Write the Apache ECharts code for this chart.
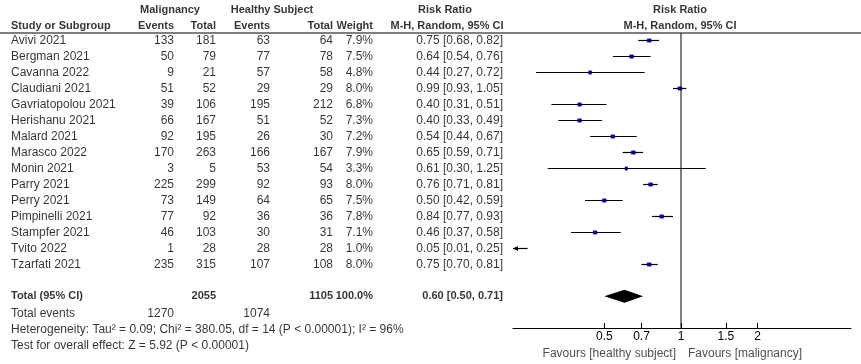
<!DOCTYPE html>
<html>
<head>
<meta charset="utf-8">
<script src="https://cdn.jsdelivr.net/npm/echarts@6/dist/echarts.min.js"></script>
<style>
  html, body { margin: 0; padding: 0; background: #fff; }
  #chart { width: 861px; height: 364px; }
</style>
</head>
<body>
<div id="chart"></div>
<script>
const studies = ['Avivi 2021', 'Bergman 2021', 'Cavanna 2022', 'Claudiani 2021', 'Gavriatopolou 2021',
  'Herishanu 2021', 'Malard 2021', 'Marasco 2022', 'Monin 2021', 'Parry 2021', 'Perry 2021',
  'Pimpinelli 2021', 'Stampfer 2021', 'Tvito 2022', 'Tzarfati 2021'];
const malEvents = [133, 50, 9, 51, 39, 66, 92, 170, 3, 225, 73, 77, 46, 1, 235];
const malTotal = [181, 79, 21, 52, 106, 167, 195, 263, 5, 299, 149, 92, 103, 28, 315];
const hsEvents = [63, 77, 57, 29, 195, 51, 26, 166, 53, 92, 64, 36, 30, 28, 107];
const hsTotal = [64, 78, 58, 29, 212, 52, 30, 167, 54, 93, 65, 36, 31, 28, 108];
const weights = [7.9, 7.5, 4.8, 8.0, 6.8, 7.3, 7.2, 7.9, 3.3, 8.0, 7.5, 7.8, 7.1, 1.0, 8.0];
const rr = [0.75, 0.64, 0.44, 0.99, 0.40, 0.40, 0.54, 0.65, 0.61, 0.76, 0.50, 0.84, 0.46, 0.05, 0.75];
const rrLow = [0.68, 0.54, 0.27, 0.93, 0.31, 0.33, 0.44, 0.59, 0.30, 0.71, 0.42, 0.77, 0.37, 0.01, 0.70];
const rrHigh = [0.82, 0.76, 0.72, 1.05, 0.51, 0.49, 0.67, 0.71, 1.25, 0.81, 0.59, 0.93, 0.58, 0.25, 0.81];
const totalN = [2055, 1105];
const totalEvents = [1270, 1074];
const totalRR = [0.60, 0.50, 0.71];
const tickValues = [0.5, 0.7, 1, 1.5, 2];
const tickLabels = ['0.5', '0.7', '1', '1.5', '2'];
const heterogeneity = 'Heterogeneity: Tau² = 0.09; Chi² = 380.05, df = 14 (P < 0.00001); I² = 96%';
const overallEffect = 'Test for overall effect: Z = 5.92 (P < 0.00001)';

// layout (pixels)
const ROW0 = 40.3;
const ROWH = 16;
const PLOT_TOP = 33;
const PLOT_BOTTOM = 328;
const PLOT_LEFT = 513;
const PLOT_RIGHT = 851;
const col = { study: 11, malEv: 174, malTot: 216, hsEv: 270, hsTot: 333, weight: 373, ci: 503, mal: 170, hs: 272, ciHead: 445, plot: 680 };
const FONT = '"Liberation Sans", Arial, sans-serif';

const lg = v => Math.log10(v);
const fmt2 = v => v.toFixed(2);
const ciText = (e, l, h) => `${fmt2(e)} [${fmt2(l)}, ${fmt2(h)}]`;

// table cells
const cells = [];
const cell = (x, row, text, align, bold, color) => {
  cells.push({
    value: [x, row],
    label: {
      formatter: text,
      align,
      fontWeight: bold ? 'bold' : 'normal',
      fontSize: bold ? 11 : 12,
      color: color || '#000',
    },
  });
};
const H1 = (10 - ROW0) / ROWH;
const H2 = (25.5 - ROW0) / ROWH;
cell(col.mal, H1, 'Malignancy', 'center', true);
cell(col.hs, H1, 'Healthy Subject', 'center', true);
cell(col.ciHead, H1, 'Risk Ratio', 'center', true);
cell(col.plot, H1, 'Risk Ratio', 'center', true);
cell(col.study, H2, 'Study or Subgroup', 'left', true);
cell(col.malEv, H2, 'Events', 'right', true);
cell(col.malTot, H2, 'Total', 'right', true);
cell(col.hsEv, H2, 'Events', 'right', true);
cell(col.hsTot, H2, 'Total', 'right', true);
cell(col.weight, H2, 'Weight', 'right', true);
cell(col.ciHead + 2, H2, 'M-H, Random, 95% CI', 'center', true);
cell(col.plot, H2, 'M-H, Random, 95% CI', 'center', true);

studies.forEach((s, i) => {
  cell(col.study, i, s, 'left');
  cell(col.malEv, i, String(malEvents[i]), 'right');
  cell(col.malTot, i, String(malTotal[i]), 'right');
  cell(col.hsEv, i, String(hsEvents[i]), 'right');
  cell(col.hsTot, i, String(hsTotal[i]), 'right');
  cell(col.weight, i, weights[i].toFixed(1) + '%', 'right');
  cell(col.ci, i, ciText(rr[i], rrLow[i], rrHigh[i]), 'right');
});

const TOTAL_ROW = studies.length + 1;
cell(col.study, TOTAL_ROW, 'Total (95% CI)', 'left', true);
cell(col.malTot, TOTAL_ROW, String(totalN[0]), 'right', true);
cell(col.hsTot, TOTAL_ROW, String(totalN[1]), 'right', true);
cell(col.weight, TOTAL_ROW, '100.0%', 'right', true);
cell(col.ci, TOTAL_ROW, ciText(totalRR[0], totalRR[1], totalRR[2]), 'right', true);
cell(col.study, TOTAL_ROW + 1.08, 'Total events', 'left');
cell(col.malEv, TOTAL_ROW + 1.08, String(totalEvents[0]), 'right');
cell(col.hsEv, TOTAL_ROW + 1.08, String(totalEvents[1]), 'right');
cell(col.study, TOTAL_ROW + 2.08, heterogeneity, 'left');
cell(col.study, TOTAL_ROW + 3.06, overallEffect, 'left');
cell(676, TOTAL_ROW + 3.56, 'Favours [healthy subject]', 'right', false, '#222');
cell(688, TOTAL_ROW + 3.56, 'Favours [malignancy]', 'left', false, '#222');

// forest data in log10 space
const studyData = studies.map((s, i) => [lg(rr[i]), lg(rrLow[i]), lg(rrHigh[i]), weights[i], i]);
const pooledData = [[lg(totalRR[0]), lg(totalRR[1]), lg(totalRR[2]), 100, TOTAL_ROW]];

const plotYMin = -(ROW0 - PLOT_TOP) / ROWH;
const plotYMax = plotYMin + (PLOT_BOTTOM - PLOT_TOP) / ROWH;
// axis range: pixel extent of the axis line mapped back to ratio scale
const DECADE = 254.8;
const plotXMin = (PLOT_LEFT - 681) / DECADE;
const plotXMax = (PLOT_RIGHT - 681) / DECADE;

const chart = echarts.init(document.getElementById('chart'));
chart.setOption({
  animation: false,
  textStyle: { fontFamily: FONT },
  grid: [
    { left: 0, top: 0, width: 861, height: 364 },
    { left: PLOT_LEFT, top: PLOT_TOP, width: PLOT_RIGHT - PLOT_LEFT, height: PLOT_BOTTOM - PLOT_TOP },
  ],
  xAxis: [
    { gridIndex: 0, type: 'value', min: 0, max: 861, show: false },
    {
      gridIndex: 1,
      type: 'value',
      min: plotXMin,
      max: plotXMax,
      position: 'bottom',
      axisLine: { show: true, onZero: false, lineStyle: { color: '#000', width: 1 } },
      axisTick: { show: true, inside: true, length: 5, customValues: tickValues.map(lg), lineStyle: { color: '#000' } },
      axisLabel: {
        customValues: tickValues.map(lg),
        margin: 3,
        color: '#000',
        fontSize: 12,
        fontFamily: FONT,
        formatter: (v) => {
          let best = 0;
          tickValues.forEach((t, k) => { if (Math.abs(lg(t) - v) < Math.abs(lg(tickValues[best]) - v)) best = k; });
          return tickLabels[best];
        },
      },
      splitLine: { show: false },
    },
  ],
  yAxis: [
    { gridIndex: 0, type: 'value', inverse: true, min: -ROW0 / ROWH, max: (364 - ROW0) / ROWH, show: false },
    { gridIndex: 1, type: 'value', inverse: true, min: plotYMin, max: plotYMax, show: false },
  ],
  series: [
    {
      type: 'line',
      xAxisIndex: 0,
      yAxisIndex: 0,
      data: [[0, plotYMin], [861, plotYMin]],
      symbol: 'none',
      lineStyle: { color: '#000', width: 1 },
      silent: true,
    },
    {
      type: 'scatter',
      xAxisIndex: 0,
      yAxisIndex: 0,
      symbolSize: 0,
      silent: true,
      data: cells,
      label: {
        show: true,
        position: 'inside',
        verticalAlign: 'middle',
        fontFamily: FONT,
      },
    },
    {
      type: 'line',
      xAxisIndex: 1,
      yAxisIndex: 1,
      data: [[0, plotYMin], [0, plotYMax]],
      symbol: 'none',
      lineStyle: { color: '#000', width: 1 },
      silent: true,
    },
    {
      type: 'custom',
      xAxisIndex: 1,
      yAxisIndex: 1,
      silent: true,
      data: studyData,
      renderItem: (params, api) => {
        const y = Math.round(api.coord([0, api.value(4)])[1]) + 0.5;
        const xMin = params.coordSys.x;
        const xMax = xMin + params.coordSys.width;
        let x1 = api.coord([api.value(1), 0])[0];
        let x2 = api.coord([api.value(2), 0])[0];
        const xc = api.coord([api.value(0), 0])[0];
        const clipL = x1 < xMin;
        const clipR = x2 > xMax;
        x1 = Math.max(x1, xMin);
        x2 = Math.min(x2, xMax);
        const children = [
          { type: 'line', shape: { x1, y1: y, x2, y2: y }, style: { stroke: '#000', lineWidth: 1.2 } },
        ];
        if (clipL) {
          children.push({ type: 'polygon', shape: { points: [[x1, y], [x1 + 5, y - 2.5], [x1 + 5, y + 2.5]] }, style: { fill: '#000' } });
        }
        if (clipR) {
          children.push({ type: 'polygon', shape: { points: [[x2, y], [x2 - 5, y - 2.5], [x2 - 5, y + 2.5]] }, style: { fill: '#000' } });
        }
        if (xc >= xMin && xc <= xMax) {
          const w = 1.6 + 0.3 * api.value(3);
          children.push({ type: 'rect', shape: { x: xc - w / 2, y: y - 1.7, width: w, height: 3.4 }, style: { fill: '#0000b0', stroke: '#00007a', lineWidth: 0.4 } });
        }
        return { type: 'group', children };
      },
    },
    {
      type: 'custom',
      xAxisIndex: 1,
      yAxisIndex: 1,
      silent: true,
      data: pooledData,
      renderItem: (params, api) => {
        const y = api.coord([0, api.value(4)])[1];
        const xc = api.coord([api.value(0), 0])[0];
        const x1 = api.coord([api.value(1), 0])[0];
        const x2 = api.coord([api.value(2), 0])[0];
        return {
          type: 'polygon',
          shape: { points: [[x1, y], [xc, y - 6.5], [x2, y], [xc, y + 6.5]] },
          style: { fill: '#000' },
        };
      },
    },
  ],
});
</script>
</body>
</html>
